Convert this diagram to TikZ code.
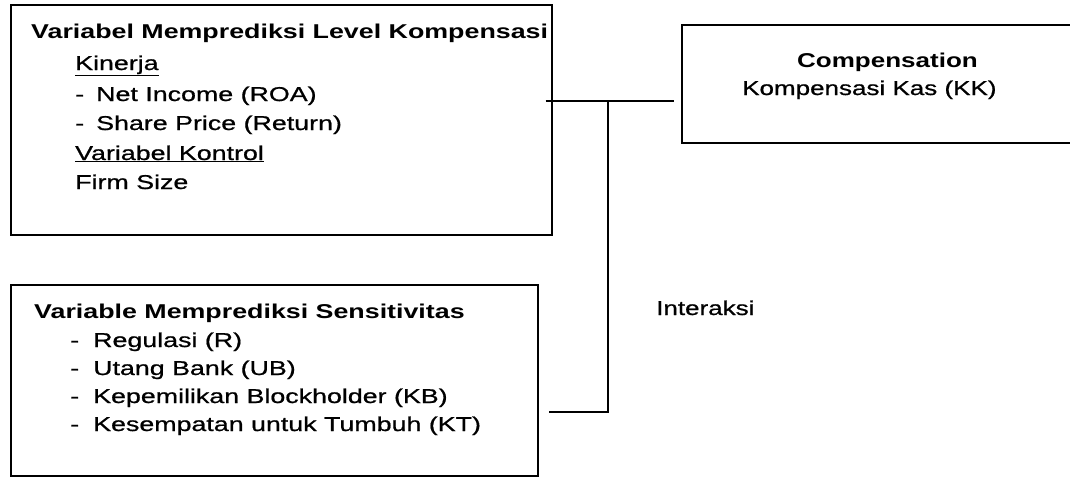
\documentclass[tikz,border=0pt]{standalone}
\usepackage{fontspec}
\setmainfont{Liberation Sans}[FakeStretch=1.3, UprightFeatures={FakeBold=0.8}]
\newfontfamily\boxfont{Liberation Sans}[FakeStretch=1.34, UprightFeatures={FakeBold=0.8}]
\begin{document}
\begin{tikzpicture}[x=1pt,y=-1pt,
  box/.style={draw, line width=1.7pt, inner sep=0pt, anchor=north west},
  txt/.style={anchor=base west, inner sep=0pt, font=\fontsize{20}{24}\selectfont},
  btxt/.style={txt, font=\fontsize{20}{24}\selectfont\bfseries},
  itxt/.style={anchor=base west, inner sep=0pt, font=\boxfont\fontsize{20}{24}\selectfont},
  ibtxt/.style={itxt, font=\boxfont\fontsize{20}{24}\selectfont\bfseries},
  conn/.style={line width=2.2pt}]
\useasboundingbox (0,0) rectangle (1070,477);
\clip (0,0) rectangle (1070,477);
% boxes
\node[box, minimum width=541pt, minimum height=230pt] (b1) at (10,4) {};
\node[box, minimum width=405pt, minimum height=118pt] (cmp) at (681,24) {};
\node[box, minimum width=527pt, minimum height=191pt] (b2) at (10,284) {};
% box 1 text
\node[ibtxt] (t1) at (31,38) {Variabel Memprediksi Level Kompensasi};
\node[itxt] (k1) at (75,70) {\underline{Kinerja}};
\node[itxt] (d1) at (75,101) {-};
\node[itxt] (n1) at (96,101) {Net Income (ROA)};
\node[itxt] (d2) at (75,130) {-};
\node[itxt] (n2) at (96,130) {Share Price (Return)};
\node[itxt] (k2) at (75,160) {\underline{Variabel Kontrol}};
\node[itxt] (n3) at (75,189) {Firm Size};
% compensation text
\node[btxt] (ct) at (797,67) {Compensation};
\node[txt] (kk) at (742,95) {Kompensasi Kas (KK)};
% box 2 text
\node[ibtxt] (t2) at (34,318) {Variable Memprediksi Sensitivitas};
\node[itxt] (e1) at (70,347) {-};
\node[itxt] (m1) at (93,347) {Regulasi (R)};
\node[itxt] (e2) at (70,375) {-};
\node[itxt] (m2) at (93,375) {Utang Bank (UB)};
\node[itxt] (e3) at (70,403) {-};
\node[itxt] (m3) at (93,403) {Kepemilikan Blockholder (KB)};
\node[itxt] (e4) at (70,431) {-};
\node[itxt] (m4) at (93,431) {Kesempatan untuk Tumbuh (KT)};
% label
\node[txt] (int) at (656,315) {Interaksi};
% connectors
\coordinate (j1) at (608,101);
\coordinate (j2) at (608,412);
\draw[conn] ([xshift=-7pt]b1.east |- j1) -- ([xshift=-7pt]cmp.west |- j1);
\draw[conn] (j1) -- (j2) -- ([xshift=10pt]b2.east |- j2);
\end{tikzpicture}
\end{document}
